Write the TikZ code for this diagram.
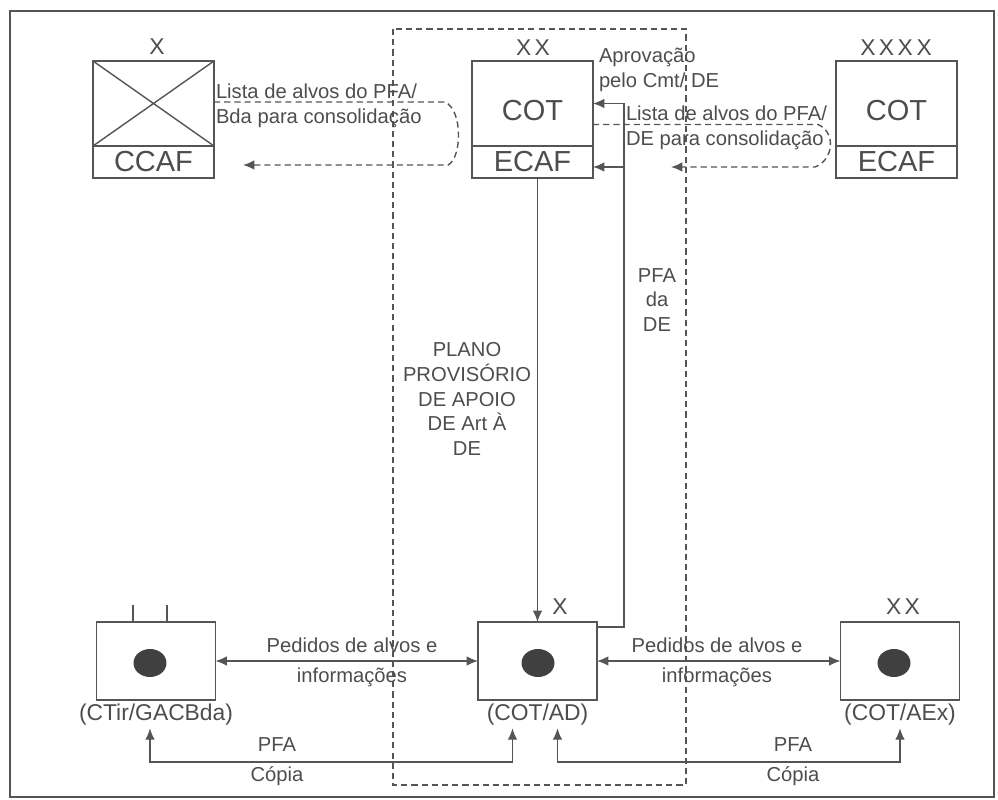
\documentclass[tikz,border=0pt]{standalone}
\usepackage{fontspec}
\setmainfont{Liberation Sans}
\usetikzlibrary{arrows.meta,positioning,shapes.geometric}
\definecolor{linegray}{HTML}{555555}
\definecolor{textgray}{HTML}{4D4D4D}

\begin{document}
\begin{tikzpicture}[
    x=0.02cm, y=-0.02cm,
    every node/.style={text=textgray, inner sep=0pt, outer sep=0pt},
    upbox/.style={
        draw=linegray,
        line width=0.8pt,
        minimum width=2.42cm,
        minimum height=1.7cm,
        text height=0.68cm,
        font=\fontsize{16.5}{18}\selectfont
    },
    lowbox/.style={
        draw=linegray,
        line width=0.8pt,
        minimum width=2.42cm,
        minimum height=0.64cm,
        font=\fontsize{16.5}{18}\selectfont
    },
    unitbox/.style={
        draw=linegray,
        line width=0.8pt,
        minimum width=2.38cm,
        minimum height=1.56cm
    },
    dot/.style={ellipse, fill=black!75, minimum width=0.66cm, minimum height=0.56cm},
    echelon/.style={font=\fontsize{13}{15}\selectfont},
    unitlbl/.style={font=\fontsize{13}{15}\selectfont, anchor=north, inner ysep=2pt},
    msg/.style={font=\fontsize{11.5}{14}\selectfont, align=left},
    pairlbl/.style={font=\fontsize{11.5}{17}\selectfont, align=center},
    arrow/.style={-{Latex[length=6.5pt,width=5.5pt]}, draw=linegray, line width=0.8pt},
    biarrow/.style={{Latex[length=6.5pt,width=5.5pt]}-{Latex[length=6.5pt,width=5.5pt]}, draw=linegray, line width=0.8pt},
    dasharrow/.style={arrow, dash pattern=on 3.5pt off 2.3pt}
]
\useasboundingbox (0,0) rectangle (998,800);
\draw[linegray, line width=1.5pt] (10,11) rectangle (994,797);

% dashed frame round the DE
\draw[linegray, line width=0.6pt, dash pattern=on 3.5pt off 2.3pt] (393,29) rectangle (686,785);

%==========================
% top row
%==========================
\node[upbox] (ccafup) at (153.5,103.5) {};
\node[lowbox, below=0pt of ccafup] (ccaf) {CCAF};
\draw[linegray, line width=0.8pt] (ccafup.north west) -- (ccafup.south east)
    (ccafup.north east) -- (ccafup.south west);
\node[echelon] (ccafx) at (157,47) {X};

\node[upbox] (cotde) at (532.5,103.5) {COT};
\node[lowbox, below=0pt of cotde] (ecafde) {ECAF};
\node[echelon] (cotdex) at (533,48) {X\kern2pt X};

\node[upbox] (cotex) at (896.5,103.5) {COT};
\node[lowbox, below=0pt of cotex] (ecafex) {ECAF};
\node[echelon] (cotexx) at (896,48) {X\kern2pt X\kern2pt X\kern2pt X};

\node[msg, anchor=west] (aprov) at (599,70) {Aprovação\\pelo Cmt/ DE};
\node[msg, anchor=west] (listade) at (626,128) {Lista de alvos do PFA/\\DE para consolidação};
\node[msg, anchor=west] (listabda) at (216,106) {Lista de alvos do PFA/\\Bda para consolidação};

%==========================
% bottom row
%==========================
\node[unitbox] (ctir) at (156,661) {};
\node[dot] (ctirdot) at (150,663) {};
\node[unitlbl] (ctirlbl) at (ctir.south) {(CTir/GACBda)};
\draw[linegray, line width=0.8pt] (ctirdot.center |- ctir.north) ++(-17,0) -- ++(0,-17)
    (ctirdot.center |- ctir.north) ++(17,0) -- ++(0,-17);

\node[unitbox] (cotad) at (537.5,661) {};
\node[dot] (cotaddot) at (538,663) {};
\node[unitlbl] (cotadlbl) at (cotad.south) {(COT/AD)};
\node[echelon] (cotadx) at (560,607) {X};

\node[unitbox] (cotaex) at (900,661) {};
\node[dot] (cotaexdot) at (894,663) {};
\node[unitlbl] (cotaexlbl) at (cotaex.south) {(COT/AEx)};
\node[echelon] (cotaexx) at (903,607) {X\kern2pt X};

\node[pairlbl] (pedl) at (352,662) {Pedidos de alvos e\\informações};
\node[pairlbl] (pedr) at (717,662) {Pedidos de alvos e\\informações};
\node[pairlbl] (copial) at (277,762) {PFA\\Cópia};
\node[pairlbl] (copiar) at (793,762) {PFA\\Cópia};

%==========================
% middle
%==========================
\node[msg, align=center] (plano) at (467,399) {PLANO\\PROVISÓRIO\\DE APOIO\\DE Art À\\DE};
\node[msg, align=center] (pfade) at (657,300) {PFA\\da\\DE};

\coordinate (pfaline) at ([xshift=0.62cm]cotde.east);

%==========================
% connectors
%==========================
\draw[arrow] (ecafde.south -| cotad.north) -- (cotad.north);
\draw[arrow] ([yshift=-0.1cm]cotad.north east) -| (pfaline) -- (cotde.east);
\draw[arrow] ([yshift=-0.1cm]ecafde.east -| pfaline) -- ([yshift=-0.1cm]ecafde.east);

\draw[dasharrow] ([yshift=0.03cm]ccafup.east) -- (445,102)
    .. controls (463,110) and (462,158) .. (448,165) -- ([xshift=0.58cm,yshift=-0.06cm]ccaf.east);
\draw[dasharrow] ([yshift=-0.42cm]cotde.east) -- (818,124.5)
    .. controls (836,132) and (834,160) .. (815,167) -- ([xshift=1.56cm,yshift=-0.1cm]ecafde.east);

\draw[biarrow] (ctir.east) -- (cotad.west);
\draw[biarrow] (cotad.east) -- (cotaex.west);

\draw[biarrow] (ctirlbl.south -| ctirdot.center) |- (copial.center) -| ([xshift=-0.5cm]cotadlbl.south);
\draw[biarrow] ([xshift=0.4cm]cotadlbl.south) |- (copiar.center) -| (cotaexlbl.south);

\end{tikzpicture}
\end{document}
